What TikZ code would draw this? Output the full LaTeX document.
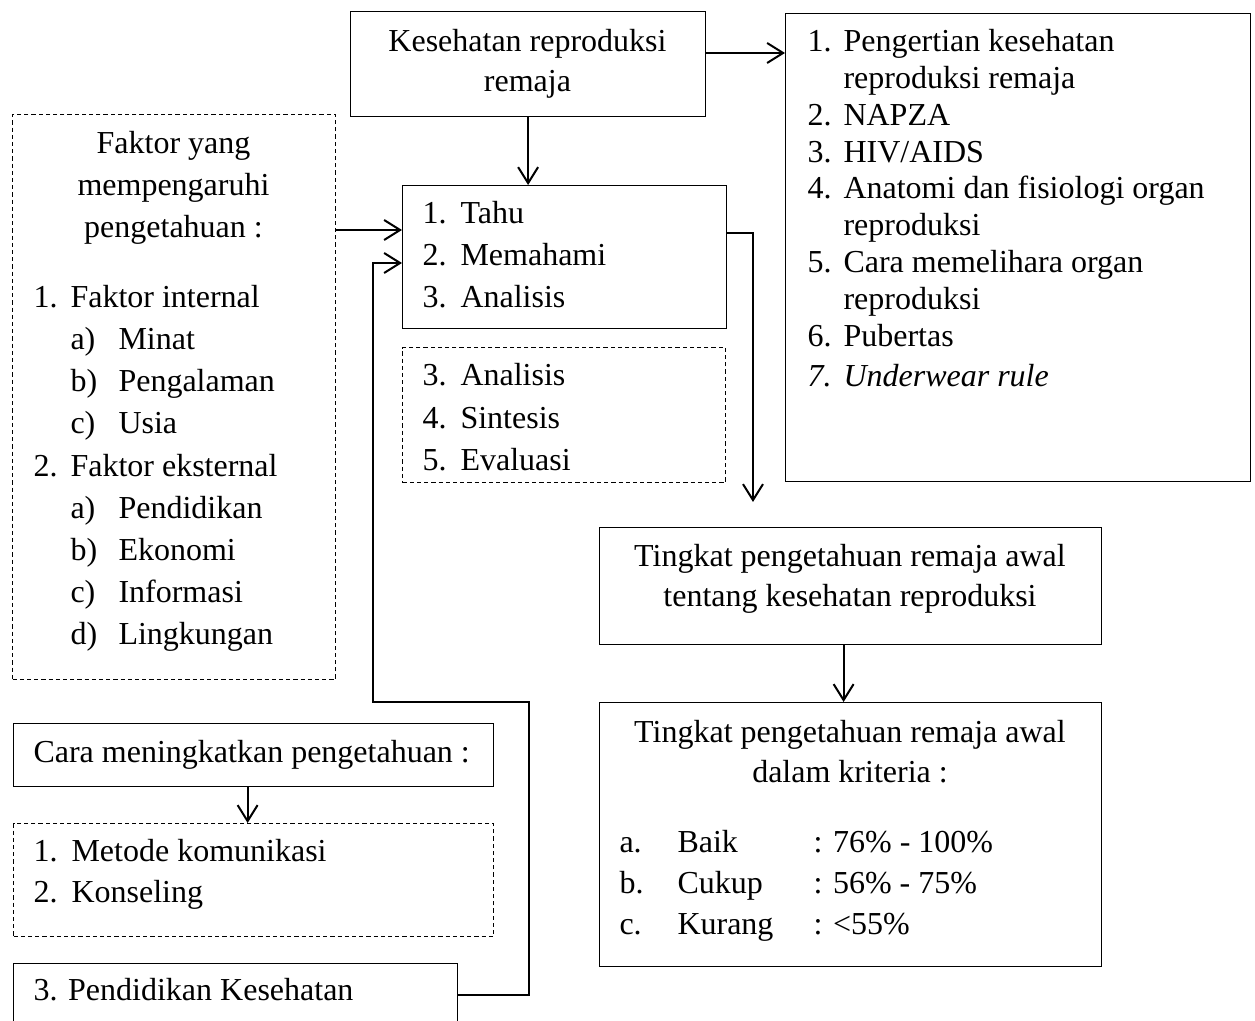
\documentclass[tikz,border=0pt]{standalone}
\usepackage{fontspec}
\setmainfont{Liberation Serif}
\usetikzlibrary{positioning,arrows.meta}
\newlength\pxu
\setlength\pxu{0.375pt}
\newcommand{\numlab}[2]{\makebox[#1\pxu][l]{#2}}
\newcommand{\sizeat}[1]{\fontsize{12pt}{#1pt}\selectfont}

\begin{document}
\begin{tikzpicture}[x=0.375pt,y=-0.375pt,auto,
		>={Straight Barb[length=6pt,width=7.5pt]},
		font=\sizeat{13.8},
		box/.style={draw,rectangle,inner sep=0pt,anchor=north west,line width=0.45pt},
		dashbox/.style={box,dash pattern=on 1.6pt off 1.1pt},
		boxsize/.style 2 args={minimum width=#1*0.375pt,minimum height=#2*0.375pt},
		txt/.style={inner sep=0pt,anchor=base west,align=left},
		ctxt/.style={inner sep=0pt,anchor=base,align=center},
		arrow/.style={->,line width=0.75pt}]
		\useasboundingbox (0,0) rectangle (1255,1021);
		\fill[white] (0,0) rectangle (1255,1021);
		\clip (0,0) rectangle (1255,1021);

		\node[box,     boxsize={355}{105}]    (kespro)   at (350,11)   {};
		\node[box,     boxsize={465}{468}]    (materi)   at (785,13)   {};
		\node[dashbox, boxsize={323}{565}]    (faktor)   at (12,114)   {};
		\node[box,     boxsize={324}{143}]    (tahu)     at (402,185)  {};
		\node[dashbox, boxsize={323}{135}]    (lanjut)   at (402,347)  {};
		\node[box,     boxsize={502}{117}]    (awal)     at (599,527)  {};
		\node[box,     boxsize={502}{264}]    (kriteria) at (599,702)  {};
		\node[box,     boxsize={480}{63}]     (cara)     at (13,723)   {};
		\node[dashbox, boxsize={480}{113}]    (metode)   at (13,823)   {};
		\node[box,     boxsize={444}{62}]     (penkes)   at (13,963)   {};

		\node[ctxt, font=\sizeat{15}]    (kespro-t)   at (527.5,92) {Kesehatan reproduksi\\remaja};
		\node[txt]                       (materi-t)   at (807,387)  {\numlab{36}{1.}Pengertian kesehatan\\
			\numlab{36}{}reproduksi remaja\\
			\numlab{36}{2.}NAPZA\\
			\numlab{36}{3.}HIV/AIDS\\
			\numlab{36}{4.}Anatomi dan fisiologi organ\\
			\numlab{36}{}reproduksi\\
			\numlab{36}{5.}Cara memelihara organ\\
			\numlab{36}{}reproduksi\\
			\numlab{36}{6.}Pubertas\\[1.5pt]
			{\itshape\numlab{36}{7.}Underwear rule}};
		\node[ctxt, font=\sizeat{15.9}]  (faktor-h)   at (173.5,238) {Faktor yang\\mempengaruhi\\pengetahuan :};
		\node[txt,  font=\sizeat{15.84}] (faktor-t)   at (33,645)   {\numlab{37}{1.}Faktor internal\\
			\numlab{37}{}\numlab{48}{a)}Minat\\
			\numlab{37}{}\numlab{48}{b)}Pengalaman\\
			\numlab{37}{}\numlab{48}{c)}Usia\\
			\numlab{37}{2.}Faktor eksternal\\
			\numlab{37}{}\numlab{48}{a)}Pendidikan\\
			\numlab{37}{}\numlab{48}{b)}Ekonomi\\
			\numlab{37}{}\numlab{48}{c)}Informasi\\
			\numlab{37}{}\numlab{48}{d)}Lingkungan};
		\node[txt,  font=\sizeat{15.75}] (tahu-t)     at (422,308)  {\numlab{38}{1.}Tahu\\ \numlab{38}{2.}Memahami\\ \numlab{38}{3.}Analisis};
		\node[txt,  font=\sizeat{16.1}]  (lanjut-t)   at (422,471)  {\numlab{38}{3.}Analisis\\ \numlab{38}{4.}Sintesis\\ \numlab{38}{5.}Evaluasi};
		\node[ctxt, font=\sizeat{15}]    (awal-t)     at (850,607)  {Tingkat pengetahuan remaja awal\\tentang kesehatan reproduksi};
		\node[ctxt, font=\sizeat{15}]    (kriteria-h) at (850,783)  {Tingkat pengetahuan remaja awal\\dalam kriteria :};
		\node[txt,  font=\sizeat{15.4}]  (kriteria-t) at (619,935)  {\numlab{58}{a.}\numlab{136}{Baik}: 76\% - 100\%\\
			\numlab{58}{b.}\numlab{136}{Cukup}: 56\% - 75\%\\
			\numlab{58}{c.}\numlab{136}{Kurang}: <55\%};
		\node[txt]                       (cara-t)     at (33,763)   {Cara meningkatkan pengetahuan :};
		\node[txt,  font=\sizeat{15.4}]  (metode-t)   at (33,903)   {\numlab{38}{1.}Metode komunikasi\\ \numlab{38}{2.}Konseling};
		\node[txt]                       (penkes-t)   at (33,1001)  {3. Pendidikan Kesehatan};

		\coordinate (b1)    at ([shift={(0,45)}]tahu.north west);
		\coordinate (b2)    at ([shift={(0,78)}]tahu.north west);
		\coordinate (b3)    at ([shift={(0,48)}]tahu.north east);
		\coordinate (turn1) at (529,702);
		\coordinate (turn2) at (373,702);
		\coordinate (tip)   at (753,502);

		\draw[arrow] ([shift={(0,42)}]kespro.north east) -- ([shift={(0,40)}]materi.north west);
		\draw[arrow] (kespro.south) -- (kespro.south |- tahu.north);
		\draw[arrow] (faktor.east |- b1) -- (b1);
		\draw[arrow] (penkes.east) -| (turn1) -- (turn2) |- (b2);
		\draw[arrow] (b3) -| (tip);
		\draw[arrow] ([shift={(-7,0)}]awal.south) -- ([shift={(-7,0)}]awal.south |- kriteria.north);
		\draw[arrow] ([shift={(-6,0)}]cara.south) -- ([shift={(-6,0)}]cara.south |- metode.north);
\end{tikzpicture}
\end{document}
